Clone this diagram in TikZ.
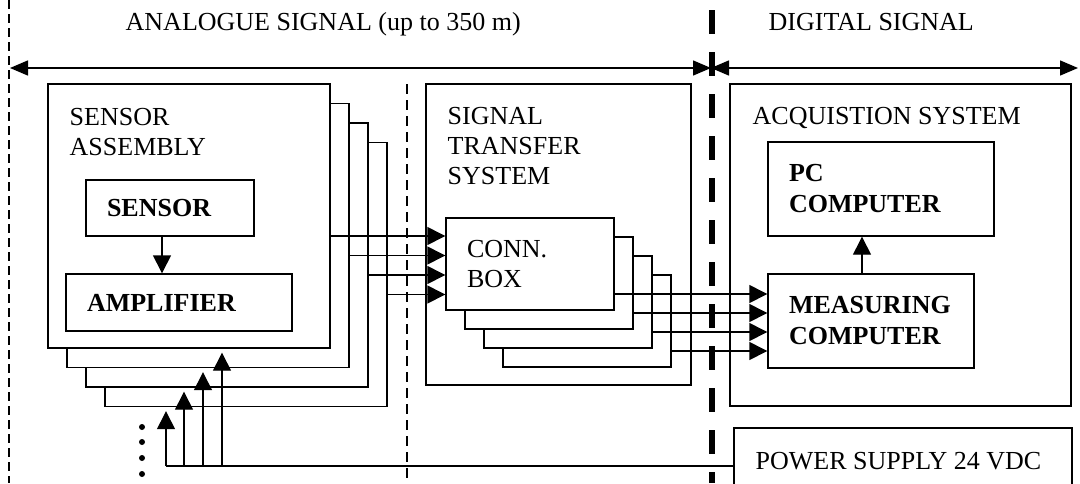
\documentclass[tikz,border=0pt]{standalone}
\usepackage{fontspec}
\setmainfont{Liberation Serif}
\usetikzlibrary{arrows.meta}

\begin{document}
\begin{tikzpicture}[x=1pt, y=-1pt, line width=1.4pt,
    reg/.style={font=\fontsize{26}{30}\selectfont},
    bld/.style={font=\fontsize{26}{31}\selectfont\bfseries},
    box/.style={draw, fill=white, inner sep=0pt},
    ibox/.style={draw, fill=white, align=left, inner xsep=21pt, inner ysep=0pt},
    lbl/.style={reg, anchor=north west, inner sep=0pt, align=left},
    sig/.style={-{Triangle[length=18pt, width=18pt]}},
    span/.style={{Triangle[length=18pt, width=15pt]}-{Triangle[length=18pt, width=15pt]}}]
    \useasboundingbox (0,0) rectangle (1080,483);

    \draw[line width=1.2pt, dash pattern=on 9pt off 5pt] (9,0) -- (9,483);
    \draw[line width=1.2pt, dash pattern=on 10pt off 6pt] (407,84) -- (407,483);
    \draw[line width=5.5pt, dash pattern=on 24pt off 18pt] (712,10) -- (712,483);

    \coordinate (aL) at (10,68);
    \coordinate (aM) at (711,68);
    \coordinate (aR) at (1078,68);
    \draw[span] (aL) -- (aM);
    \draw[span] (aM) -- (aR);
    \node[lbl, anchor=base west] (ana) at (125,30) {ANALOGUE SIGNAL (up to 350 m)};
    \node[lbl, anchor=base west] (dig) at (768,30) {DIGITAL SIGNAL};

    \foreach \k in {3,2,1,0}
      \node[box, minimum width=282pt, minimum height=264pt] (sa\k) at (189+19*\k, 216+19.5*\k) {};
    \node[lbl] (sat) at (69,108) {SENSOR\\ASSEMBLY};
    \node[ibox, bld, text width=126pt, minimum height=56pt] (sen) at (170,208) {SENSOR};
    \node[ibox, bld, text width=184pt, minimum height=57pt] (amp) at (179,302.5) {AMPLIFIER};
    \draw[sig] ([xshift=-8pt]sen.south) -- ([xshift=-8pt]sen.south |- amp.north);

    \node[box, minimum width=265pt, minimum height=301pt] (sts) at (558.5,234.5) {};
    \node[lbl] (stt) at (447,107) {SIGNAL\\TRANSFER\\SYSTEM};
    \foreach \k in {3,2,1}
      \node[box, minimum width=168pt, minimum height=92pt] (cb\k) at (530+19*\k, 264+19*\k) {};
    \node[ibox, reg, text width=126pt, minimum height=92pt] (cb0) at (530,264) {CONN.\\BOX};

    \node[box, minimum width=341pt, minimum height=322pt] (acq) at (900.5,245) {};
    \node[lbl] (act) at (752,107) {ACQUISTION SYSTEM};
    \node[ibox, bld, text width=184pt, minimum height=94pt] (pc) at (881,189) {PC\\COMPUTER};
    \node[ibox, bld, text width=164pt, minimum height=94pt] (mc) at (871,321) {MEASURING\\COMPUTER};
    \draw[sig] ([xshift=-9pt]mc.north) -- ([xshift=-9pt]mc.north |- pc.south);

    \node[box, minimum width=338pt, minimum height=76pt] (ps) at (903,466) {};
    \node[lbl] (pst) at (755,452) {POWER SUPPLY 24 VDC};

    \foreach \k in {0,...,3} {
      \coordinate (s\k) at ([yshift=-20pt]sa\k.east);
      \draw[sig] (s\k) -- (cb0.west |- s\k);
      \coordinate (c\k) at ([yshift=-30pt]cb\k.east);
      \draw[sig] (c\k) -- (mc.west |- c\k);
    }

    \coordinate (p0) at (222,466);
    \coordinate (p1) at (203,466);
    \coordinate (p2) at (184,466);
    \coordinate (p3) at (166,466);
    \draw (ps.west) -- (p3);
    \foreach \k in {0,...,3}
      \draw[sig, shorten >=4pt] (p\k) -- (p\k |- sa\k.south);
    \foreach \y in {427,442,458,474}
      \fill (142,\y) circle (3pt);
\end{tikzpicture}
\end{document}
